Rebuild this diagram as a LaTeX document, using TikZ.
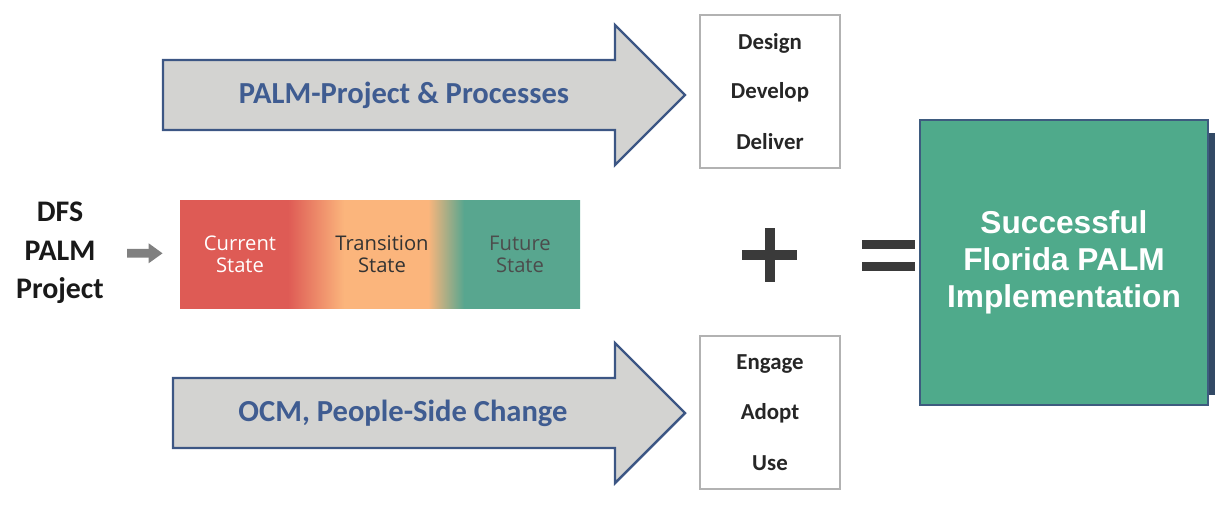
\documentclass[tikz,border=0pt]{standalone}
\usepackage{fontspec}
\setmainfont{Carlito}
\newfontfamily\headfont{Liberation Sans}
\newfontfamily\statefont{Open Sans}
\usetikzlibrary{arrows.meta,positioning,calc}
\definecolor{cA}{HTML}{3C5684}
\definecolor{cB}{HTML}{D3D3D1}
\definecolor{cT}{HTML}{3F5C91}
\definecolor{cRed}{HTML}{DE5B55}
\definecolor{cOra}{HTML}{FBB57C}
\definecolor{cTeal}{HTML}{58A68F}
\definecolor{cGreen}{HTML}{4FAA8B}
\definecolor{cEdge}{HTML}{3E5B7F}
\definecolor{cSign}{HTML}{3A3A3A}
% red -> orange -> teal, path spans 25bp..75bp
\pgfdeclarehorizontalshading{statebar}{100bp}{color(0bp)=(cRed); color(38.5bp)=(cRed);
  color(45.5bp)=(cOra); color(56bp)=(cOra); color(60.5bp)=(cTeal); color(100bp)=(cTeal)}

\begin{document}
\begin{tikzpicture}[x=.2mm,y=-.2mm,
  bigarrow/.style={draw=cA,fill=cB,line width=1.4pt,line join=miter},
  arrowlabel/.style={text=cT,font=\fontsize{17.4}{20}\selectfont\bfseries},
  listbox/.style={draw=gray!60,fill=white,line width=.8pt,
    minimum width=2.8cm,minimum height=3.06cm,inner sep=0},
  listitem/.style={text=black!85,font=\fontsize{13}{15}\selectfont\bfseries},
  statetext/.style={align=center,font=\statefont\fontsize{11.5}{12.5}\selectfont},
  smallarrow/.style={draw=black!50,line width=5pt,
    -{Triangle[length=.28cm,width=.38cm]},shorten <=.34cm,shorten >=.34cm},
  goal/.style={draw=cEdge,fill=cGreen,line width=1.2pt,minimum width=5.76cm,
    minimum height=5.7cm,align=center,text=white,
    font=\headfont\bfseries\fontsize{18}{21}\selectfont}]
  \useasboundingbox (0,0) rectangle (1232,507);

  % the two process arrows
  \draw[bigarrow] (163,60) -- (615,60) -- (615,25) -- (685,95)
    -- (615,165) -- (615,130) -- (163,130) -- cycle;
  \draw[bigarrow] (173,378) -- (615,378) -- (615,343) -- (685,413)
    -- (615,483) -- (615,448) -- (173,448) -- cycle;
  \node[arrowlabel] (pp) at (404,95) {PALM-Project \& Processes};
  \node[arrowlabel] (ocm) at (403,413) {OCM, People-Side Change};

  % lists at the arrow heads
  \node[listbox] (ppbox) at (770,91.5) {};
  \foreach \t [count=\i] in {Design,Develop,Deliver}
    \node[listitem] at (770,{43+49.5*(\i-1)}) {\t};
  \node[listbox] (ocmbox) at (770,412.5) {};
  \foreach \t [count=\i] in {Engage,Adopt,Use}
    \node[listitem] at (770,{364+49.5*(\i-1)}) {\t};

  % state bar
  \shade[shading=statebar] (180,200) rectangle (580,308);
  \node[minimum width=8cm,minimum height=2.16cm,inner sep=0] (bar) at (380,254) {};
  \node[statetext,text=white] (cur) at (240,254) {Current\\State};
  \node[statetext,text=black!80] (trans) at (382,254) {Transition\\State};
  \node[statetext,text=black!70] (fut) at (520,254) {Future\\State};

  \node[align=center,text=black!90,font=\fontsize{17}{22}\selectfont\bfseries]
    (dfs) at (60,253) {DFS\\PALM\\Project};
  \draw[smallarrow] (dfs) -- (bar);

  % plus and equals
  \fill[cSign] (742,250) rectangle (797,260);
  \fill[cSign] (765,228) rectangle (775,282);
  \fill[cSign] (862,240) rectangle (915,249);
  \fill[cSign] (862,262) rectangle (915,271);

  \fill[cEdge!80!black] (1206,133) rectangle (1215,395);
  \node[goal] (goal) at (1064,262.5) {Successful\\Florida PALM\\Implementation};
\end{tikzpicture}
\end{document}
